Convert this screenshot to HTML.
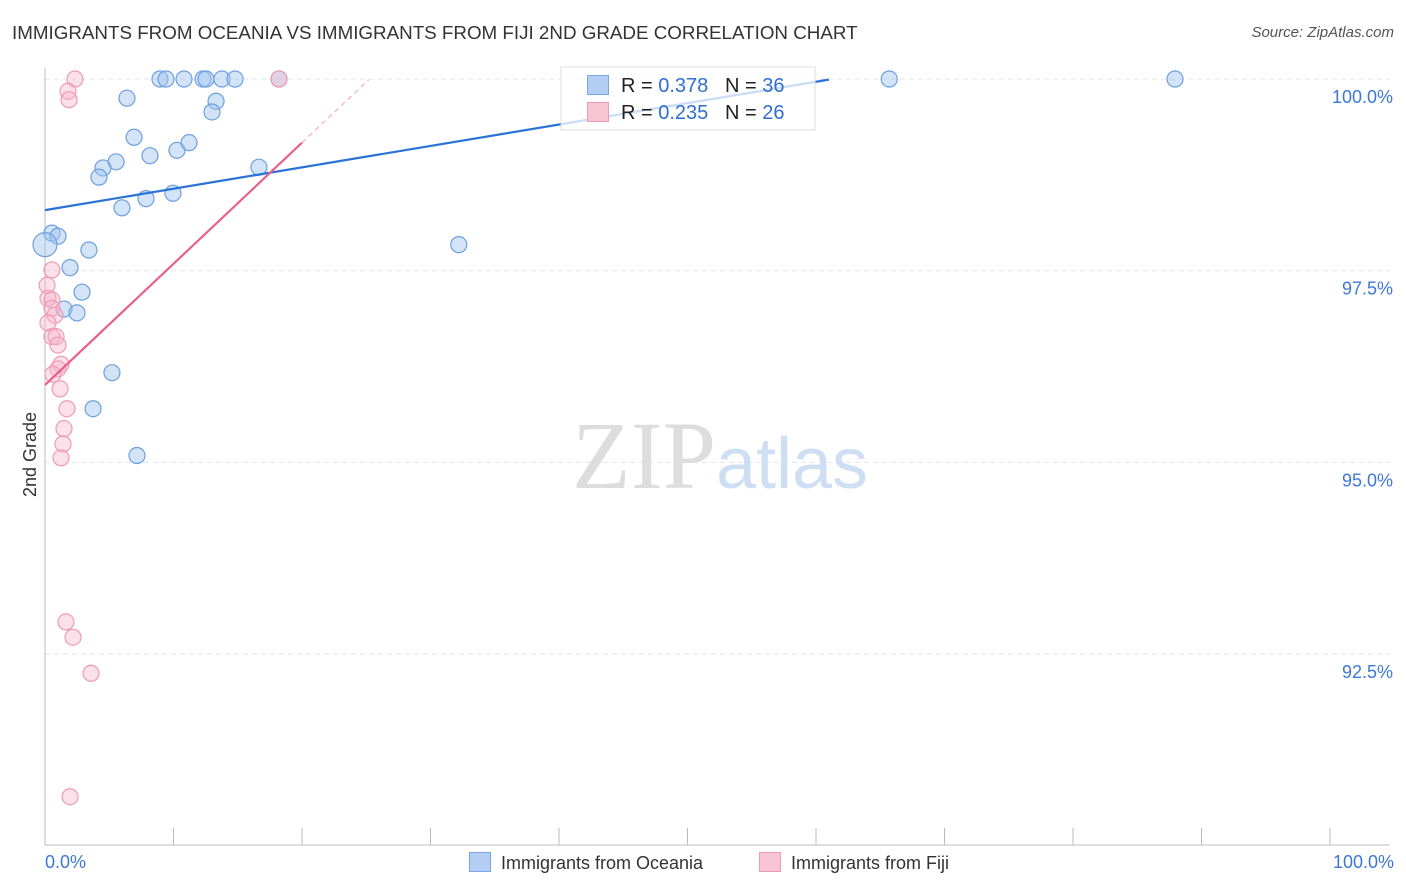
<!DOCTYPE html>
<html><head><meta charset="utf-8">
<style>
body{margin:0;background:#fff;font-family:"Liberation Sans",sans-serif;}
#wrap{position:relative;width:1406px;height:892px;overflow:hidden;}
.t{position:absolute;white-space:nowrap;}
</style></head><body>
<div id="wrap">
<div class="t" style="left:12px;top:22px;font-size:18.8px;color:#333;">IMMIGRANTS FROM OCEANIA VS IMMIGRANTS FROM FIJI 2ND GRADE CORRELATION CHART</div>
<div class="t" style="right:12px;top:24px;font-size:15px;color:#555;font-style:italic;">Source: ZipAtlas.com</div>
<svg id="svg" width="1406" height="892" style="position:absolute;left:0;top:0"></svg>
</div>
<script>
const blueX=[8.95,9.42,10.82,12.3,12.53,13.77,14.79,18.21,65.7,87.94,6.38,13.31,13.0,6.93,8.17,10.27,11.21,5.53,4.51,4.2,16.65,5.99,7.86,9.96,0.54,1.01,0,3.42,32.2,1.95,2.88,1.48,2.49,5.21,3.74,7.16];
const blueY=[100,100,100,100,100,100,100,100,100,100,99.75,99.71,99.57,99.24,99.0,99.07,99.17,98.92,98.84,98.72,98.85,98.32,98.44,98.51,97.99,97.95,97.84,97.77,97.84,97.54,97.22,97.0,96.95,96.17,95.7,95.09];
const pinkX=[2.33,18.21,1.79,1.87,0.54,0.16,0.23,0.54,0.54,0.78,0.23,0.54,0.86,1.01,1.25,1.01,0.62,1.17,1.71,1.48,1.4,1.25,1.63,2.18,3.58,1.95];
const pinkY=[100,100,99.84,99.73,97.51,97.31,97.14,97.12,97.01,96.92,96.82,96.64,96.64,96.53,96.28,96.22,96.15,95.96,95.7,95.44,95.24,95.06,92.92,92.72,92.25,90.64];
const yTicks=[100,97.5,95,92.5];
const yTickLabels=["100.0%","97.5%","95.0%","92.5%"];
const blueTrend=[98.29,0.0279];
const pinkTrend=[96.01,0.158];
const X0=45,X1=1330,Y0=79,Ypx=76.68;
const sx=v=>X0+(X1-X0)*v/100;
const sy=v=>Y0+(100-v)*Ypx;
const svg=document.getElementById('svg');
const NS='http://www.w3.org/2000/svg';
function mk(tag,attrs,parent){const e=document.createElementNS(NS,tag);for(const k in attrs)e.setAttribute(k,attrs[k]);(parent||svg).appendChild(e);return e;}
yTicks.forEach((t,i)=>{
 const g=mk('line',{x1:X0,x2:1390,y1:sy(t),y2:sy(t),stroke:'#e4e4e4','stroke-dasharray':'5,4'});
 
 
 const l=mk('text',{x:1393,y:sy(t)+24,'text-anchor':'end','font-size':18,fill:'#3d78d6','font-family':'Liberation Sans, sans-serif'});
 l.textContent=yTickLabels[i];
 
 
});
const ax=mk('line',{x1:X0,x2:1390,y1:845,y2:845,stroke:'#bbb'});


const ay=mk('line',{x1:X0,x2:X0,y1:68,y2:845,stroke:'#bbb'});


for(let i=0;i<=10;i++){const tk=mk('line',{x1:sx(i*10),x2:sx(i*10),y1:828,y2:845,stroke:'#bbb'});
 
 }
const wm=mk('text',{x:720,y:488,'text-anchor':'middle','font-size':96,fill:'#ddd','font-family':'Liberation Serif, serif'});


wm.innerHTML='<tspan>ZIP</tspan><tspan fill="#cfdff3" font-family="Liberation Sans, sans-serif" font-size="72">atlas</tspan>';
function pts(xs,ys,fill,stroke,name){xs.forEach((x,i)=>{const c=mk('circle',{cx:sx(x),cy:sy(ys[i]),r:(name==='blue-point'&&x===0)?12:8,fill:fill,stroke:stroke,'stroke-width':1.2});
 
 });}
pts(blueX,blueY,'rgba(160,195,240,0.45)','#6d9fe0','blue-point');
pts(pinkX,pinkY,'rgba(248,180,200,0.4)','#f09ab5','pink-point');
const bl=mk('line',{x1:sx(0),y1:sy(blueTrend[0]),x2:sx(61),y2:sy(blueTrend[0]+blueTrend[1]*61),stroke:'#2a72d6','stroke-width':2.2});


const pl=mk('line',{x1:sx(0),y1:sy(pinkTrend[0]),x2:sx(20),y2:sy(pinkTrend[0]+pinkTrend[1]*20),stroke:'#e8608c','stroke-width':2.2});


const pd=mk('line',{x1:sx(20),y1:sy(pinkTrend[0]+pinkTrend[1]*20),x2:sx(25.2),y2:sy(pinkTrend[0]+pinkTrend[1]*25.2),stroke:'#f0a0b8','stroke-width':1,'stroke-dasharray':'5,4'});


const lg=mk('rect',{x:561,y:67,width:254,height:63,fill:'rgba(255,255,255,0.75)',stroke:'#ddd'});


</script>
<div class="t" style="left:587px;top:75px;font-size:20px;color:#222;"><span style="display:inline-block;width:20px;height:18px;background:#b4cef3;border:1px solid #7aa6e6;vertical-align:-3px;margin-right:12px"></span>R = <span style="color:#2f6fd0">0.378</span>&nbsp;&nbsp;&nbsp;N = <span style="color:#2f6fd0">36</span></div>
<div class="t" style="left:587px;top:102px;font-size:20px;color:#222;"><span style="display:inline-block;width:20px;height:18px;background:#f8c4d4;border:1px solid #ee9ab4;vertical-align:-3px;margin-right:12px"></span>R = <span style="color:#2f6fd0">0.235</span>&nbsp;&nbsp;&nbsp;N = <span style="color:#2f6fd0">26</span></div>
<div class="t" style="left:-12px;top:444px;font-size:18px;color:#333;transform:rotate(-90deg);">2nd Grade</div>
<div class="t" style="left:45px;top:852px;font-size:18px;color:#3d78d6;">0.0%</div>
<div class="t" style="right:12px;top:852px;font-size:18px;color:#3d78d6;">100.0%</div>
<div class="t" style="left:469px;top:852px;font-size:18px;color:#333;"><span style="display:inline-block;width:20px;height:18px;background:#b4cef3;border:1px solid #7aa6e6;vertical-align:-3px;margin-right:10px"></span>Immigrants from Oceania</div>
<div class="t" style="left:759px;top:852px;font-size:18px;color:#333;"><span style="display:inline-block;width:20px;height:18px;background:#f8c4d4;border:1px solid #ee9ab4;vertical-align:-3px;margin-right:10px"></span>Immigrants from Fiji</div>
</body></html>
